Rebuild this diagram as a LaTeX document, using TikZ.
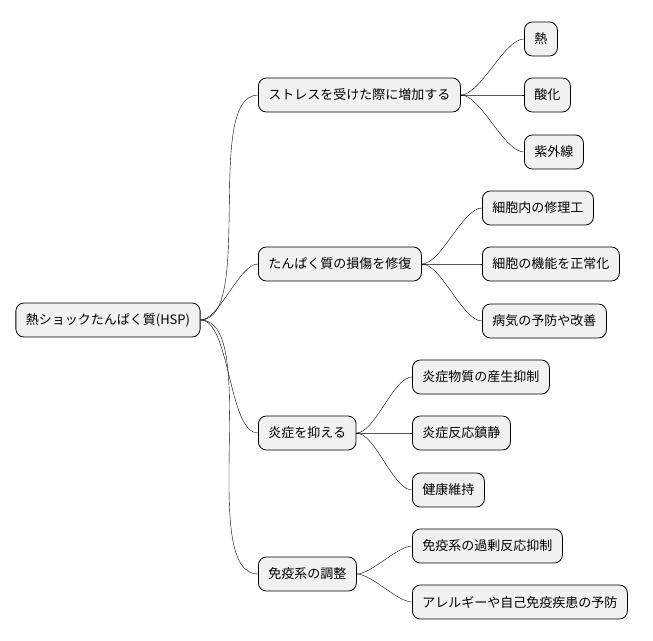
\documentclass[tikz,border=0pt]{standalone}
\usepackage{fontspec}
\setmainfont{Noto Sans CJK JP}
\usetikzlibrary{positioning}
\definecolor{boxfill}{HTML}{F1F1F1}
\tikzset{
  topic/.style={draw=black, fill=boxfill, rounded corners=8pt, line width=0.8pt,
    minimum height=34pt, inner xsep=10pt, font=\fontsize{13}{15}\selectfont},
  branch/.style={line width=0.6pt, out=0, in=180, looseness=0.6}
}
\begin{document}
\begin{tikzpicture}[x=1pt, y=-1pt]
        \useasboundingbox (0,0) rectangle (653,640);
        \node[topic] (root) at (108,320) {熱ショックたんぱく質(HSP)};
        % 1st layer
        \node[topic, anchor=west] (s) at (258,95) {ストレスを受けた際に増加する};
        \node[topic, anchor=west] (r) at (258,264) {たんぱく質の損傷を修復};
        \node[topic, anchor=west] (e) at (258,433) {炎症を抑える};
        \node[topic, anchor=west] (m) at (258,574) {免疫系の調整};
        % 2nd layer
        \node[topic, anchor=west] (s1) at (524,39) {熱};
        \node[topic, anchor=west] (s2) at (524,95) {酸化};
        \node[topic, anchor=west] (s3) at (524,152) {紫外線};
        \node[topic, anchor=west] (r1) at (482,208) {細胞内の修理工};
        \node[topic, anchor=west] (r2) at (482,264) {細胞の機能を正常化};
        \node[topic, anchor=west] (r3) at (482,321) {病気の予防や改善};
        \node[topic, anchor=west] (e1) at (412,377) {炎症物質の産生抑制};
        \node[topic, anchor=west] (e2) at (412,433) {炎症反応鎮静};
        \node[topic, anchor=west] (e3) at (412,490) {健康維持};
        \node[topic, anchor=west] (m1) at (412,546) {免疫系の過剰反応抑制};
        \node[topic, anchor=west] (m2) at (412,602) {アレルギーや自己免疫疾患の予防};

        % connectors
        \foreach \c in {s,r,e,m} \draw (root.east) to[branch] (\c.west);
        \foreach \c in {s1,s2,s3} \draw (s.east) to[branch] (\c.west);
        \foreach \c in {r1,r2,r3} \draw (r.east) to[branch] (\c.west);
        \foreach \c in {e1,e2,e3} \draw (e.east) to[branch] (\c.west);
        \foreach \c in {m1,m2} \draw (m.east) to[branch] (\c.west);
    \end{tikzpicture}
\end{document}
